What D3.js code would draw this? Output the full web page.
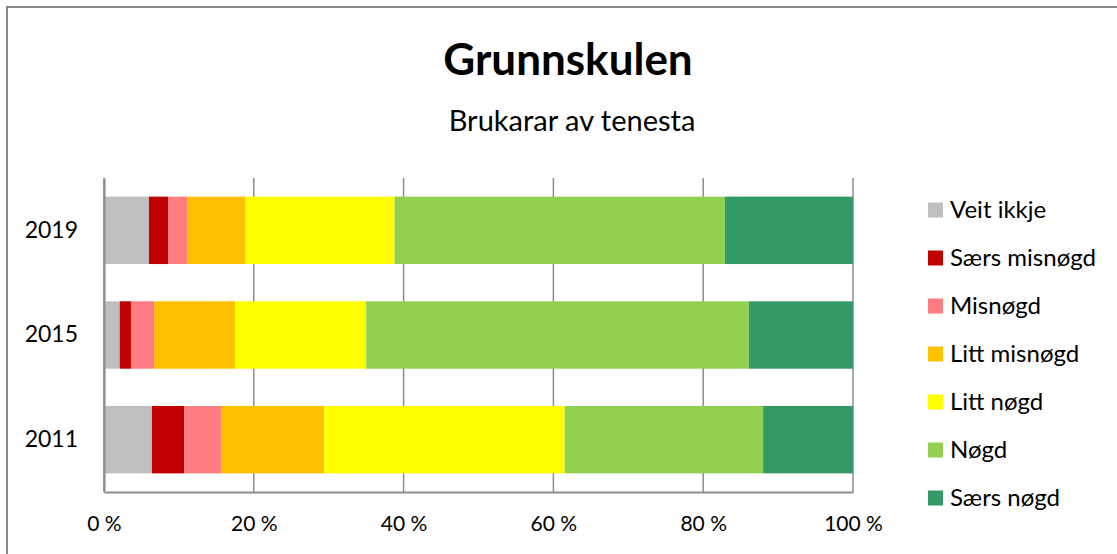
<!DOCTYPE html>
<html>
<head>
<meta charset="utf-8">
<script src="https://cdn.jsdelivr.net/npm/d3@7"></script>
<style>
  body { margin: 0; background: #fff; }
  svg { display: block; font-family: Lato, "Open Sans", sans-serif; }
</style>
</head>
<body>
<div id="chart"></div>
<script>
// years shown top to bottom
const years = ["2019", "2015", "2011"];
const categories = ["Veit ikkje", "Særs misnøgd", "Misnøgd", "Litt misnøgd", "Litt nøgd", "Nøgd", "Særs nøgd"];
const colors = ["#BFBFBF", "#C00000", "#FF7C80", "#FFC000", "#FFFF00", "#92D050", "#339966"];
// percentages per category, in order of years
const veitIkkje = [6.0, 2.1, 6.4];
const saersMisnogd = [2.6, 1.5, 4.3];
const misnogd = [2.5, 3.1, 5.0];
const littMisnogd = [7.8, 10.8, 13.7];
const littNogd = [19.9, 17.5, 32.1];
const nogd = [44.1, 51.1, 26.5];
const saersNogd = [17.1, 13.9, 12.0];
const xTicks = [0, 20, 40, 60, 80, 100];

const seriesValues = [veitIkkje, saersMisnogd, misnogd, littMisnogd, littNogd, nogd, saersNogd];

const width = 1117, height = 554;
const margin = {top: 178, left: 104, right: 264, bottom: 62};
const innerWidth = width - margin.left - margin.right;
const innerHeight = height - margin.top - margin.bottom;

const svg = d3.select("#chart").append("svg")
    .attr("width", width)
    .attr("height", height);

// chart frame (runs off the right and bottom edge)
svg.append("path")
    .attr("d", `M7,${height + 5} L7,7 L${width + 5},7`)
    .attr("fill", "none")
    .attr("stroke", "#888")
    .attr("stroke-width", 2);

// titles
svg.append("text")
    .attr("x", 568).attr("y", 75)
    .attr("text-anchor", "middle")
    .attr("font-weight", "bold")
    .attr("font-size", 44)
    .text("Grunnskulen");
svg.append("text")
    .attr("x", 572).attr("y", 131)
    .attr("text-anchor", "middle")
    .attr("font-size", 29)
    .text("Brukarar av tenesta");

const g = svg.append("g")
    .attr("transform", `translate(${margin.left},${margin.top})`);

const xScale = d3.scaleLinear().domain([0, 100]).range([0, innerWidth]);
const yScale = d3.scaleBand().domain(years).range([0, innerHeight])
    .paddingInner(0.356).paddingOuter(0.178);

// gridlines
g.append("g")
    .selectAll("line")
    .data(xTicks)
    .enter()
    .append("line")
    .attr("x1", d => xScale(d)).attr("x2", d => xScale(d))
    .attr("y1", 0).attr("y2", innerHeight)
    .attr("stroke", "#8c8c8c")
    .attr("stroke-width", 1.5);

// stack the data
const table = years.map((y, i) => {
    const row = {year: y};
    categories.forEach((c, j) => row[c] = seriesValues[j][i]);
    return row;
});
const stacked = d3.stack().keys(categories)(table);

g.append("g")
    .selectAll("g")
    .data(stacked)
    .enter()
    .append("g")
    .attr("fill", (d, i) => colors[i])
    .selectAll("rect")
    .data(d => d)
    .enter()
    .append("rect")
    .attr("x", d => xScale(d[0]))
    .attr("y", d => yScale(d.data.year))
    .attr("width", d => xScale(d[1]) - xScale(d[0]))
    .attr("height", yScale.bandwidth());

// axes
const xAxis = d3.axisBottom(xScale)
    .tickValues(xTicks)
    .tickSize(0)
    .tickPadding(24)
    .tickFormat(d => d + " %");
const xAxisG = g.append("g")
    .attr("transform", `translate(0,${innerHeight})`)
    .call(xAxis);
xAxisG.select(".domain").attr("stroke", "#8c8c8c").attr("stroke-width", 2);
xAxisG.selectAll("text")
    .attr("font-size", 21)
    .attr("font-family", "Lato, sans-serif")
    .attr("fill", "#000");

const yAxis = d3.axisLeft(yScale).tickSize(0).tickPadding(26);
const yAxisG = g.append("g").call(yAxis);
yAxisG.select(".domain").attr("stroke", "#8c8c8c").attr("stroke-width", 2);
yAxisG.selectAll("text")
    .attr("font-size", 23)
    .attr("font-family", "Lato, sans-serif")
    .attr("fill", "#000");

// legend
const legend = svg.append("g")
    .attr("transform", "translate(928,210)");
const items = legend.selectAll("g")
    .data(categories)
    .enter()
    .append("g")
    .attr("transform", (d, i) => `translate(0,${i * 48})`);
items.append("rect")
    .attr("x", 0).attr("y", -7.5)
    .attr("width", 15).attr("height", 15)
    .attr("fill", (d, i) => colors[i]);
items.append("text")
    .attr("x", 22).attr("y", 0)
    .attr("dy", "0.35em")
    .attr("font-size", 24)
    .text(d => d);
</script>
</body>
</html>
